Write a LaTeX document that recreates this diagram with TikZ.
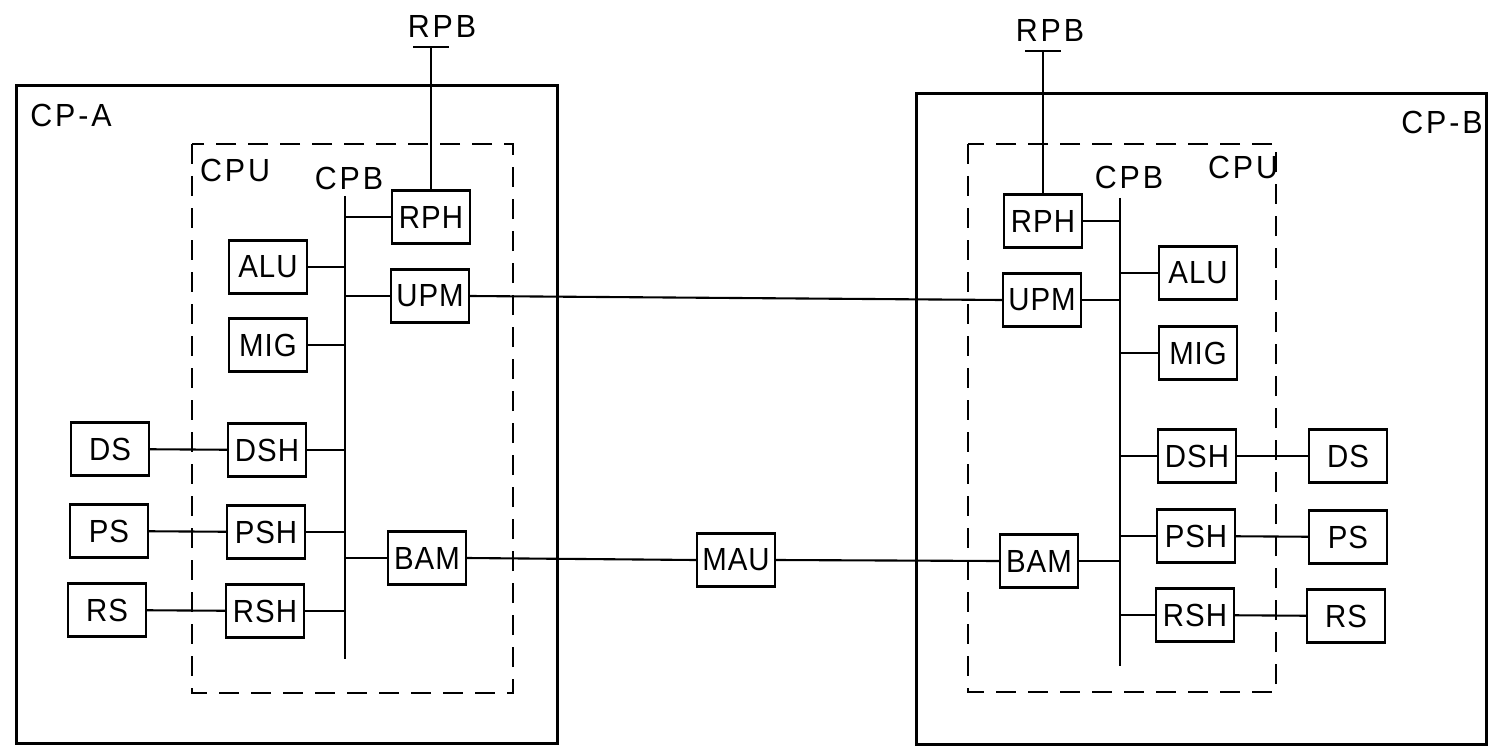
\documentclass[tikz,border=0pt]{standalone}
\usepackage{fontspec}
\setmainfont{Liberation Sans}
\newfontfamily\boxfont[FakeStretch=0.92,LetterSpace=3]{Liberation Sans}
\newfontfamily\lblfont[FakeStretch=0.95,LetterSpace=9]{Liberation Sans}
\begin{document}
\begin{tikzpicture}[x=0.5pt,y=-0.5pt,
  blk/.style={draw,line width=1.2pt,minimum width=39pt,minimum height=26.5pt,inner sep=0pt,font=\boxfont\fontsize{16}{19}\selectfont},
  lbl/.style={inner sep=0pt,font=\lblfont\fontsize{16}{19}\selectfont},
  outer/.style={draw,line width=1.5pt},
  cpu/.style={draw,line width=1pt,dash pattern=on 10pt off 6pt},
  bus/.style={line width=1.2pt},
  wire/.style={line width=1.05pt}]
\useasboundingbox (0,0) rectangle (1491,754);

% outer frames
\draw[outer] (16,86) rectangle (557,743);
\draw[outer] (916,94) rectangle (1486,744);
\node[lbl] (cpa) at (71,115) {CP-A};
\node[lbl] (cpb) at (1442,122) {CP-B};

% CPU dashed boxes
\draw[cpu] (192,144) rectangle (513,693);
\draw[cpu] (968,144) rectangle (1276,692);
\node[lbl] (cpuA) at (235,170) {CPU};
\node[lbl] (cpuB) at (1243,167) {CPU};
\node[lbl] (cpbA) at (349,178) {CPB};
\node[lbl] (cpbB) at (1129,177) {CPB};

% buses
\coordinate (busAt) at (345,196);
\coordinate (busAb) at (345,659);
\coordinate (busBt) at (1120,198);
\coordinate (busBb) at (1120,666);
\draw[bus] (busAt) -- (busAb);
\draw[bus] (busBt) -- (busBb);

% CP-A blocks
\node[blk] (rphA) at (431,217) {RPH};
\node[blk] (aluA) at (268,267) {ALU};
\node[blk] (upmA) at (430,296) {UPM};
\node[blk] (migA) at (268,345) {MIG};
\node[blk] (dsA)  at (110,449) {DS};
\node[blk] (dshA) at (267,450) {DSH};
\node[blk] (psA)  at (109,531) {PS};
\node[blk] (pshA) at (266,532) {PSH};
\node[blk] (rsA)  at (107,610) {RS};
\node[blk] (rshA) at (265,611) {RSH};
\node[blk] (bamA) at (427,558) {BAM};

% MAU
\node[blk] (mau) at (736,560) {MAU};

% CP-B blocks
\node[blk] (rphB) at (1043,221) {RPH};
\node[blk] (upmB) at (1042,300) {UPM};
\node[blk] (aluB) at (1198,273) {ALU};
\node[blk] (migB) at (1198,353) {MIG};
\node[blk] (dshB) at (1197,456) {DSH};
\node[blk] (dsB)  at (1348,456) {DS};
\node[blk] (pshB) at (1196,536) {PSH};
\node[blk] (psB)  at (1348,537) {PS};
\node[blk] (rshB) at (1195,615) {RSH};
\node[blk] (rsB)  at (1346,616) {RS};
\node[blk] (bamB) at (1039,561) {BAM};

% RPB terminals
\node[lbl] (rpbA) at (442,26) {RPB};
\coordinate (tA) at (431,47);
\draw[wire] ([xshift=-9pt]tA) -- ([xshift=9pt]tA);
\draw[wire] (tA) -- (rphA.north);
\node[lbl] (rpbB) at (1050,30) {RPB};
\coordinate (tB) at (1043,51);
\draw[wire] ([xshift=-9pt]tB) -- ([xshift=9pt]tB);
\draw[wire] (tB) -- (rphB.north);

% bus connections A
\foreach \n in {rphA,upmA,bamA}
  \draw[wire] (\n.west) -- (\n.west -| busAt);
\foreach \n in {aluA,migA,dshA,pshA,rshA}
  \draw[wire] (\n.east) -- (\n.east -| busAt);
% bus connections B
\foreach \n in {rphB,upmB,bamB}
  \draw[wire] (\n.east) -- (\n.east -| busBt);
\foreach \n in {aluB,migB,dshB,pshB,rshB}
  \draw[wire] (\n.west) -- (\n.west -| busBt);

% storage links
\draw[wire] (dsA) -- (dshA);
\draw[wire] (psA) -- (pshA);
\draw[wire] (rsA) -- (rshA);
\draw[wire] (dshB) -- (dsB);
\draw[wire] (pshB) -- (psB);
\draw[wire] (rshB) -- (rsB);

% inter-processor links
\draw[wire] (upmA.east) -- (upmB.west);
\draw[wire] (bamA.east) -- (mau.west);
\draw[wire] (mau.east) -- (bamB.west);
\end{tikzpicture}
\end{document}
